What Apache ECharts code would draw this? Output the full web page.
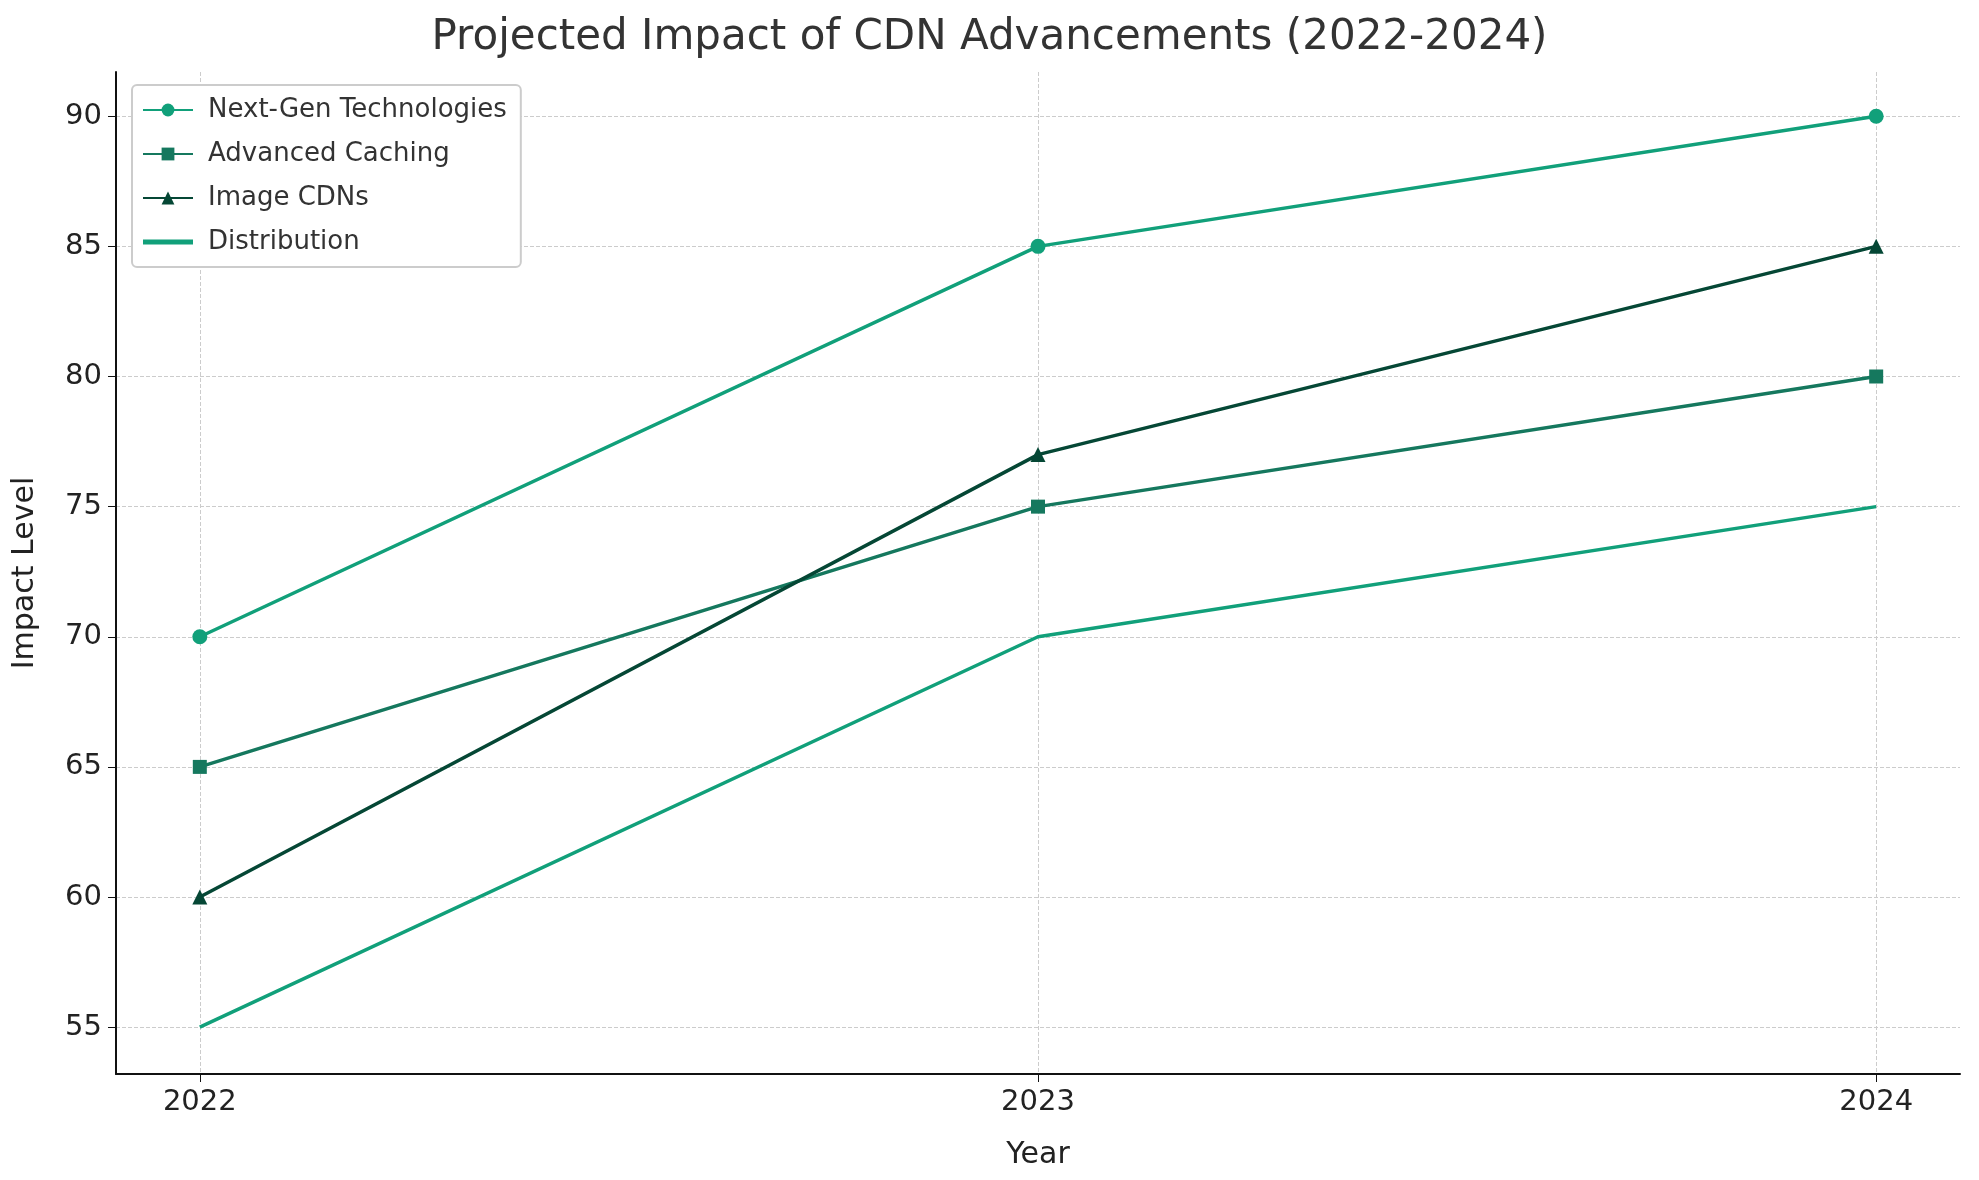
<!DOCTYPE html><html><head><meta charset="utf-8"><script src="https://cdn.jsdelivr.net/npm/echarts@6/dist/echarts.min.js"></script>
<style>html,body{margin:0;background:#fff}#c{width:1979px;height:1180px}</style></head><body><div id="c"></div><script>
const years=[2022,2023,2024];
const nextGen=[70,85,90];
const caching=[65,75,80];
const imageCdn=[60,77,85];
const distribution=[55,70,75];
const yTicks=[55,60,65,70,75,80,85,90];
const F='DejaVu Sans';
const pair=a=>a.map((v,i)=>[years[i],v]);
const mk=(name,data,color,symbol,size)=>({name,type:'line',data:pair(data),symbol:symbol||'none',symbolSize:size||10,showSymbol:!!symbol,lineStyle:{color,width:3.5},itemStyle:{color},z:3});
const chart=echarts.init(document.getElementById('c'));
chart.setOption({
 animation:false,
 title:{text:'Projected Impact of CDN Advancements (2022-2024)',left:'center',top:12,textStyle:{fontFamily:F,fontSize:42,fontWeight:'normal',color:'#333'}},
 grid:{left:116,right:19,top:72,bottom:106},
 legend:{orient:'vertical',left:132,top:85,itemWidth:50,itemHeight:16,itemGap:18,padding:[12,14,12,10],backgroundColor:'#fff',borderColor:'#ccc',borderWidth:2,borderRadius:5,textStyle:{fontFamily:F,fontSize:26,color:'#333',padding:[0,0,0,10]},
  data:['Next-Gen Technologies','Advanced Caching','Image CDNs',{name:'Distribution',icon:'path://M0,0L10,0L10,1L0,1Z'}]},
 xAxis:{type:'value',min:2021.9,max:2024.1,name:'Year',nameLocation:'middle',nameGap:66,nameTextStyle:{fontFamily:F,fontSize:30,color:'#222'},
  axisLine:{lineStyle:{color:'#111',width:2}},
  axisLabel:{fontFamily:F,fontSize:29,color:'#222',margin:14,customValues:years,formatter:v=>String(v)},
  axisTick:{customValues:years,length:8,lineStyle:{color:'#111'}},
  splitLine:{show:true,lineStyle:{type:'dashed',color:'#ccc'}}},
 yAxis:{type:'value',min:53.2,max:91.7,name:'Impact Level',nameLocation:'middle',nameGap:76,nameTextStyle:{fontFamily:F,fontSize:30,color:'#222'},
  axisLine:{show:true,lineStyle:{color:'#111',width:2}},axisTick:{show:true,length:8,customValues:yTicks,lineStyle:{color:'#111'}},
  axisLabel:{fontFamily:F,fontSize:29,color:'#222',margin:14,customValues:yTicks},
  splitLine:{show:true,lineStyle:{type:'dashed',color:'#ccc'}}},
 series:[
  mk('Next-Gen Technologies',nextGen,'#11a07a','circle',15),
  mk('Advanced Caching',caching,'#15785e','rect',14),
  mk('Image CDNs',imageCdn,'#054735','triangle',15),
  mk('Distribution',distribution,'#11a07a',null)
 ]
});
</script></body></html>
